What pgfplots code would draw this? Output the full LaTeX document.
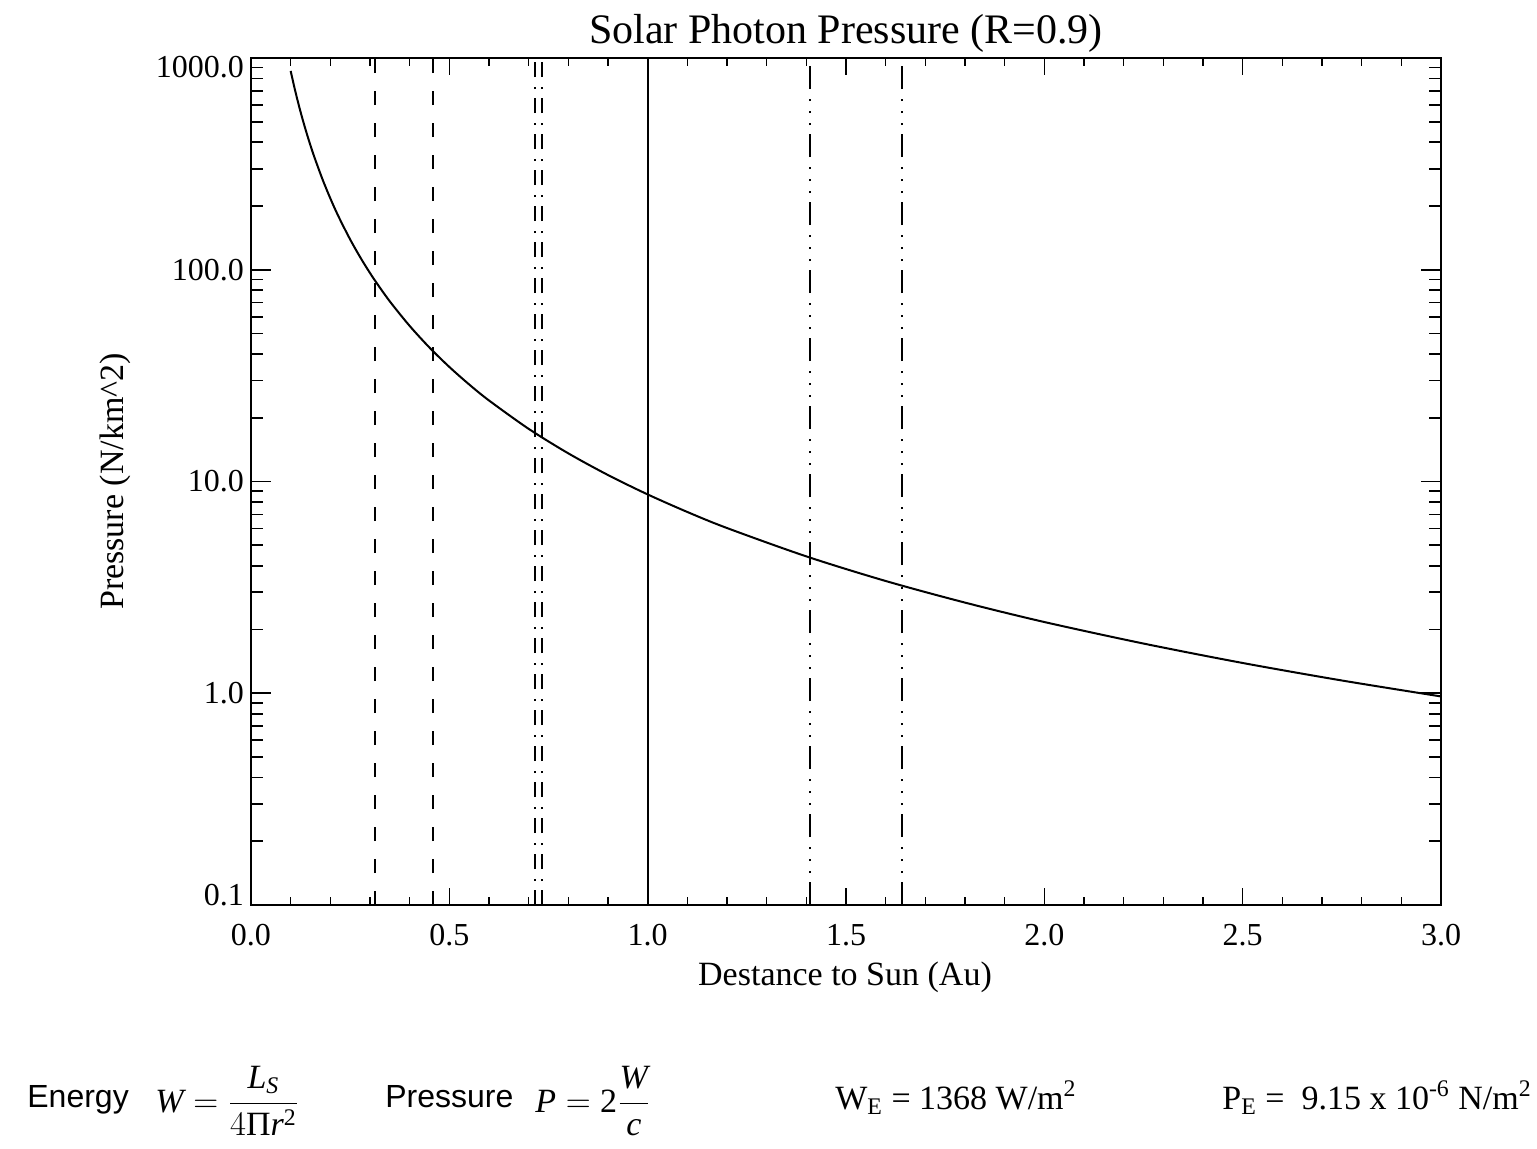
\documentclass[border=0pt]{standalone}
\usepackage{amsmath}
\usepackage{fontspec}
\setmainfont{Liberation Serif}
\newfontfamily\helv{Liberation Sans}
\usepackage{pgfplots}
\pgfplotsset{compat=1.18}
\pgfplotsset{photonbase/.style={at={(0,0)},anchor=south west,scale only axis,
  width=595pt,height=423.5pt,xmin=0,xmax=3,ymin=0.1,ymax=1000,
  axis line style={line width=1pt,black},
  every tick/.style={black,line width=0.8pt},
  tick label style={font=\fontsize{16}{19}\selectfont}}}
\begin{document}
\begin{tikzpicture}
\useasboundingbox (-125.5pt,-121.5pt) rectangle (643pt,452.5pt);
\clip (-125.5pt,-121.5pt) rectangle (643pt,452.5pt);
\begin{semilogyaxis}[photonbase,
  xtick={0,0.5,1,1.5,2,2.5,3},
  xticklabels={0.0,0.5,1.0,1.5,2.0,2.5,3.0},
  minor x tick num=4,
  major tick length=8.5pt, minor tick length=4.25pt,
  ytick=\empty, yminorticks=false,
  xticklabel style={yshift=-6pt}]
\addplot[black, line width=1pt, smooth] coordinates {
(0.10,869.0) (0.11,718.2) (0.12,603.5) (0.13,514.2) (0.14,443.4) (0.15,386.2)
(0.16,339.5) (0.18,268.2) (0.20,217.3) (0.22,179.5) (0.25,139.0) (0.28,110.8)
(0.31,90.4) (0.35,70.9) (0.40,54.3) (0.45,42.9) (0.50,34.76) (0.55,28.73)
(0.60,24.14) (0.70,17.73) (0.80,13.58) (0.90,10.73) (1.00,8.69) (1.10,7.18)
(1.20,6.03) (1.40,4.43) (1.60,3.39) (1.80,2.68) (2.00,2.17) (2.25,1.717)
(2.50,1.390) (2.75,1.149) (3.00,0.966)};
% Mercury
\addplot[black, line width=0.9pt, dash pattern=on 7pt off 9pt] coordinates {(0.3126,0.1) (0.3126,1000)};
\addplot[black, line width=0.9pt, dash pattern=on 7pt off 9pt] coordinates {(0.4588,0.1) (0.4588,1000)};
% Venus
\addplot[black, line width=0.9pt, dash pattern=on 7.5pt off 4.5pt on 1pt off 5pt] coordinates {(0.716,0.1) (0.716,1000)};
\addplot[black, line width=0.9pt, dash pattern=on 7.5pt off 4.5pt on 1pt off 5pt] coordinates {(0.733,0.1) (0.733,1000)};
% Earth
\addplot[black, line width=1pt] coordinates {(1.0,0.1) (1.0,1000)};
% Mars
\addplot[black, line width=1pt, dash pattern=on 11.5pt off 4.5pt on 1pt off 5pt on 1pt off 5pt on 1pt off 5pt] coordinates {(1.409,0.1) (1.409,1000)};
\addplot[black, line width=1pt, dash pattern=on 11.5pt off 4.5pt on 1pt off 5pt on 1pt off 5pt on 1pt off 5pt] coordinates {(1.640,0.1) (1.640,1000)};
\end{semilogyaxis}
\begin{semilogyaxis}[photonbase,
  xtick=\empty, xminorticks=false,
  ytick={0.1,1,10,100,1000},
  yticklabels={\raisebox{5pt}[\height][\depth]{0.1},1.0,10.0,100.0,\raisebox{-4.5pt}[\height][\depth]{1000.0}},
  major tick length=10pt, minor tick length=6pt]
\addplot[draw=none] coordinates {(1,1)};
\end{semilogyaxis}
\node[anchor=base, font=\fontsize{21}{25}\selectfont] at (297.5pt,430.5pt) {Solar Photon Pressure (R=0.9)};
\node[anchor=base, font=\fontsize{17}{20}\selectfont] at (297pt,-40pt) {Destance to Sun (Au)};
\node[anchor=base, rotate=90, font=\fontsize{17}{20}\selectfont] at (-63.5pt,211.75pt) {Pressure (N/km\^{}2)};
\node[anchor=base west, inner sep=0pt, font=\helv\fontsize{16}{19}\selectfont] at (-112pt,-101pt) {Energy};
\node[anchor=base west, inner sep=0pt, font=\fontsize{17}{20}\selectfont] at (-48pt,-103.5pt) {$\displaystyle \textit{W} = \frac{\textit{L}_{\textit{S}}}{4\textup{Π}\textit{r}^{\textup{2}}}$};
\node[anchor=base west, inner sep=0pt, font=\helv\fontsize{16}{19}\selectfont] at (67pt,-101pt) {Pressure};
\node[anchor=base west, inner sep=0pt, font=\fontsize{17}{20}\selectfont] at (142pt,-103.5pt) {$\displaystyle \textit{P} = \textup{2}\frac{\textit{W}}{\textit{c}}$};
\node[anchor=base west, inner sep=0pt, font=\fontsize{17}{20}\selectfont] at (292pt,-102pt) {W\textsubscript{E} = 1368 W/m\textsuperscript{2}};
\node[anchor=base west, inner sep=0pt, font=\fontsize{17}{20}\selectfont] at (485.5pt,-102pt) {P\textsubscript{E} =\ \ 9.15 x 10\textsuperscript{-6} N/m\textsuperscript{2}};
\end{tikzpicture}
\end{document}
